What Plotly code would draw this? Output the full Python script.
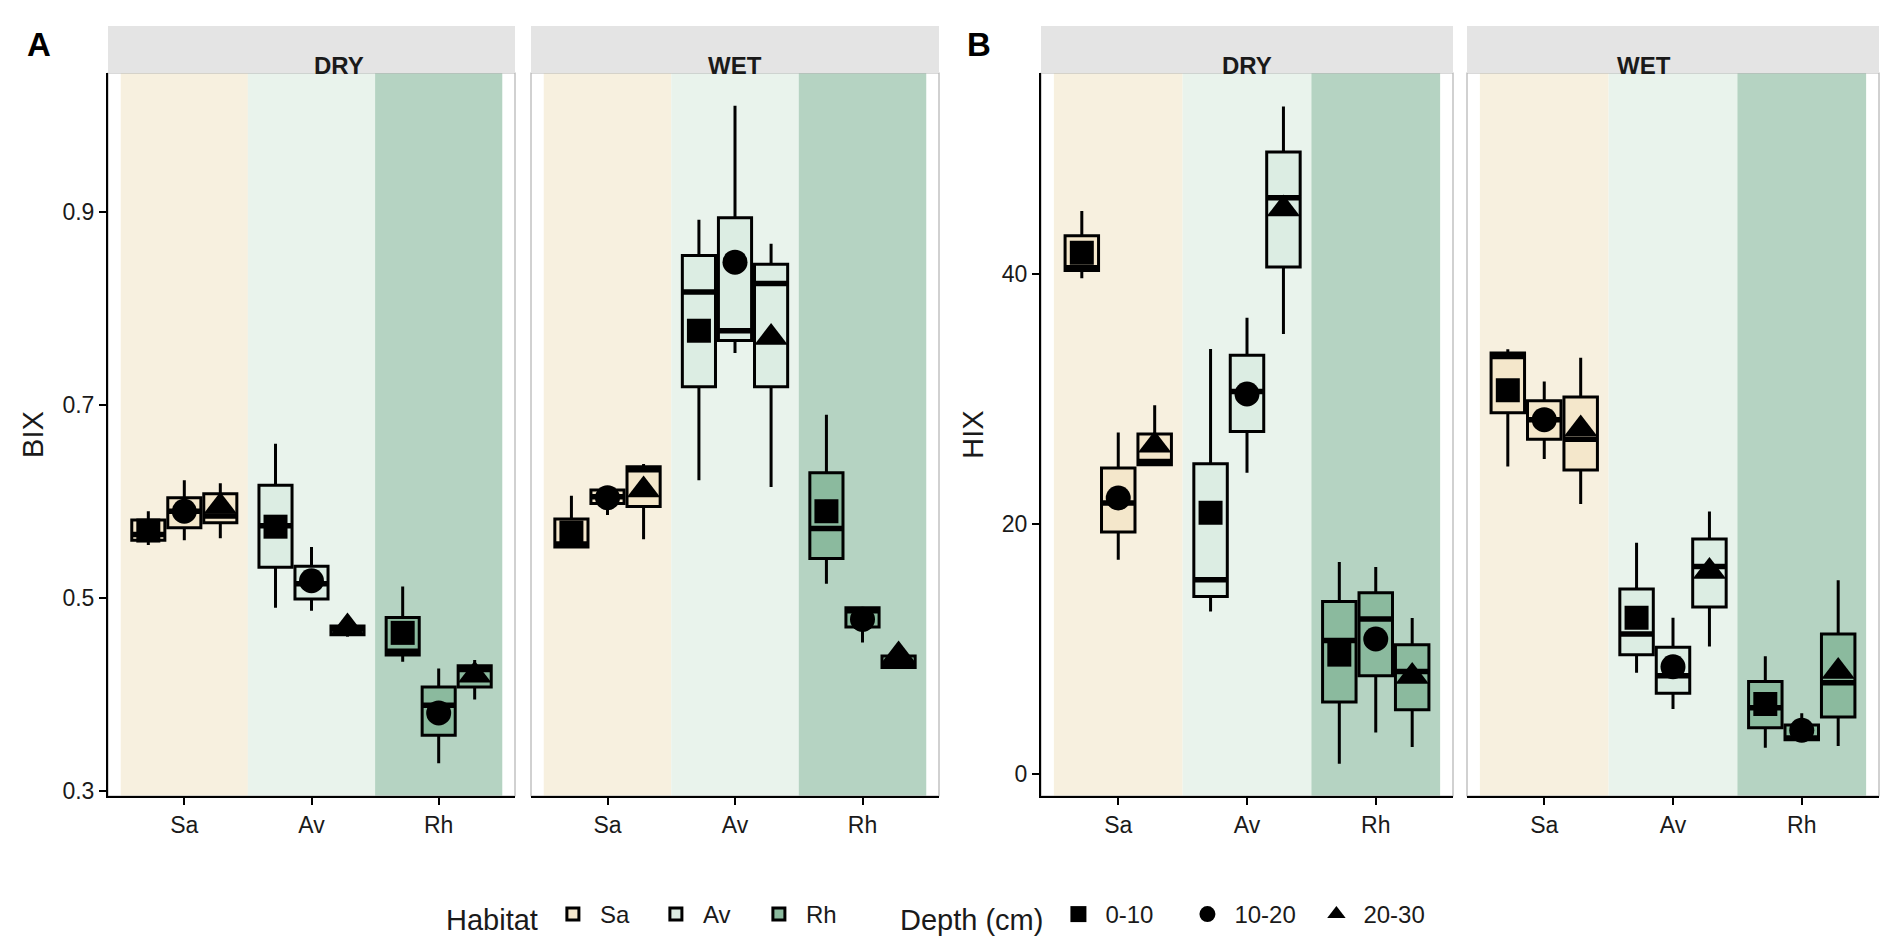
import plotly.graph_objects as go

HABITATS = ["Sa", "Av", "Rh"]
DEPTHS = ["0-10", "10-20", "20-30"]
SEASONS = ["DRY", "WET"]

# box stats, order: Sa 0-10, Sa 10-20, Sa 20-30, Av ..., Rh ...
BIX_DRY_LOW = [0.555, 0.560, 0.562, 0.490, 0.487, 0.460, 0.434, 0.329, 0.395]
BIX_DRY_Q1 = [0.560, 0.573, 0.578, 0.532, 0.499, 0.462, 0.441, 0.358, 0.408]
BIX_DRY_MED = [0.566, 0.590, 0.585, 0.575, 0.515, 0.468, 0.445, 0.389, 0.426]
BIX_DRY_Q3 = [0.581, 0.604, 0.608, 0.617, 0.533, 0.471, 0.480, 0.408, 0.430]
BIX_DRY_HIGH = [0.590, 0.622, 0.619, 0.660, 0.553, 0.473, 0.512, 0.427, 0.436]
BIX_DRY_MEAN = [0.570, 0.590, 0.595, 0.574, 0.518, 0.470, 0.464, 0.381, 0.420]

BIX_WET_LOW = [0.552, 0.586, 0.561, 0.622, 0.754, 0.615, 0.515, 0.454, 0.428]
BIX_WET_Q1 = [0.553, 0.598, 0.595, 0.719, 0.767, 0.719, 0.541, 0.470, 0.428]
BIX_WET_MED = [0.556, 0.605, 0.633, 0.817, 0.777, 0.826, 0.572, 0.487, 0.432]
BIX_WET_Q3 = [0.582, 0.612, 0.636, 0.855, 0.894, 0.846, 0.630, 0.490, 0.440]
BIX_WET_HIGH = [0.606, 0.613, 0.639, 0.892, 1.010, 0.867, 0.690, 0.491, 0.441]
BIX_WET_MEAN = [0.568, 0.604, 0.612, 0.777, 0.848, 0.770, 0.590, 0.478, 0.441]

HIX_DRY_LOW = [39.67, 17.15, 24.70, 13.00, 24.10, 35.20, 0.83, 3.33, 2.16]
HIX_DRY_Q1 = [40.29, 19.36, 24.75, 14.21, 27.40, 40.57, 5.76, 7.86, 5.15]
HIX_DRY_MED = [40.50, 21.68, 25.00, 15.55, 30.60, 46.10, 10.69, 12.40, 8.20]
HIX_DRY_Q3 = [43.06, 24.48, 27.20, 24.83, 33.50, 49.76, 13.81, 14.50, 10.35]
HIX_DRY_HIGH = [45.04, 27.33, 29.50, 34.00, 36.50, 53.40, 16.96, 16.56, 12.48]
HIX_DRY_MEAN = [41.70, 22.08, 26.30, 20.90, 30.40, 45.20, 9.55, 10.80, 7.80]

HIX_WET_LOW = [24.60, 25.20, 21.60, 8.10, 5.20, 10.20, 2.10, 2.74, 2.24]
HIX_WET_Q1 = [28.90, 26.78, 24.33, 9.55, 6.47, 13.36, 3.70, 2.74, 4.56]
HIX_WET_MED = [33.40, 28.35, 26.78, 11.20, 7.86, 16.60, 5.30, 2.88, 7.30]
HIX_WET_Q3 = [33.68, 29.87, 30.17, 14.80, 10.15, 18.80, 7.40, 3.92, 11.20]
HIX_WET_HIGH = [33.98, 31.40, 33.30, 18.50, 12.50, 21.00, 9.43, 4.86, 15.50]
HIX_WET_MEAN = [30.70, 28.35, 27.60, 12.50, 8.58, 16.20, 5.60, 3.50, 8.20]

BIX_TICKS = [0.3, 0.5, 0.7, 0.9]
HIX_TICKS = [0, 20, 40]

BOX_FILL = {"Sa": "#f4e7cb", "Av": "#dcede3", "Rh": "#8bba9e"}
BAND_FILL = {"Sa": "#f7f0df", "Av": "#e9f3ec", "Rh": "#b5d3c2"}
SYMBOLS = ["square", "circle", "triangle-up"]
SIZES = [24, 25, 29]
DODGE = [-0.283, 0.0, 0.283]
BOX_W = 0.26

W, H = 1892, 946
FONT = "Liberation Sans, Arial, sans-serif"
TXT = "#1a1a1a"

panels = [
    ("DRY", BIX_DRY_LOW, BIX_DRY_Q1, BIX_DRY_MED, BIX_DRY_Q3, BIX_DRY_HIGH, BIX_DRY_MEAN),
    ("WET", BIX_WET_LOW, BIX_WET_Q1, BIX_WET_MED, BIX_WET_Q3, BIX_WET_HIGH, BIX_WET_MEAN),
    ("DRY", HIX_DRY_LOW, HIX_DRY_Q1, HIX_DRY_MED, HIX_DRY_Q3, HIX_DRY_HIGH, HIX_DRY_MEAN),
    ("WET", HIX_WET_LOW, HIX_WET_Q1, HIX_WET_MED, HIX_WET_Q3, HIX_WET_HIGH, HIX_WET_MEAN),
]
# panel pixel boxes (left, right), shared top/bottom
px_x = [(100, 507), (523, 931), (1033, 1445), (1459, 1871)]
top_px, bot_px, strip_px = 65, 788, 18
y_dom = [1 - bot_px / H, 1 - top_px / H]

fig = go.Figure()
shapes = []
annotations = []

for i, (season, low, q1, med, q3, high, mean) in enumerate(panels):
    xa = "x" if i == 0 else f"x{i + 1}"
    ya = "y" if i == 0 else f"y{i + 1}"

    for h, hab in enumerate(HABITATS):
        shapes.append(dict(type="rect", xref=xa, yref=f"{ya} domain", x0=h + 0.5, x1=h + 1.5,
                           y0=0, y1=1, fillcolor=BAND_FILL[hab], line_width=0, layer="below"))
        for d in range(3):
            k = h * 3 + d
            pos = h + 1 + DODGE[d]
            fig.add_trace(go.Box(
                x=[pos], q1=[q1[k]], median=[med[k]], q3=[q3[k]],
                lowerfence=[low[k]], upperfence=[high[k]],
                width=BOX_W, fillcolor=BOX_FILL[hab], whiskerwidth=0,
                line=dict(color="black", width=3), boxpoints=False,
                name=hab, legendgroup=hab, legend="legend",
                showlegend=(i == 0 and d == 0), hoverinfo="skip",
                xaxis=xa, yaxis=ya))
            # thicker median bar like ggplot
            fig.add_trace(go.Scatter(
                x=[pos - BOX_W / 2, pos + BOX_W / 2], y=[med[k], med[k]], mode="lines",
                line=dict(color="black", width=5.5), showlegend=False, hoverinfo="skip",
                xaxis=xa, yaxis=ya))

    for d, dep in enumerate(DEPTHS):
        fig.add_trace(go.Scatter(
            x=[h + 1 + DODGE[d] for h in range(3)],
            y=[mean[h * 3 + d] for h in range(3)],
            mode="markers", name=dep, legend="legend2", legendgroup=dep,
            marker=dict(symbol=SYMBOLS[d], size=SIZES[d], color="black", line_width=0),
            showlegend=(i == 0), hoverinfo="skip", xaxis=xa, yaxis=ya))

    # panel border
    shapes.append(dict(type="rect", xref=f"{xa} domain", yref=f"{ya} domain", x0=0, x1=1, y0=0, y1=1,
                       line=dict(color="#b3b3b3", width=1.2), fillcolor="rgba(0,0,0,0)", layer="below"))
    # strip
    l, r = px_x[i]
    shapes.append(dict(type="rect", xref="paper", yref="paper", x0=l / W, x1=r / W,
                       y0=1 - top_px / H, y1=1 - strip_px / H, fillcolor="#e4e4e4", line_width=0))
    annotations.append(dict(xref="paper", yref="paper", x=(l + r) / 2 / W, y=1 - (top_px + strip_px) / 2 / H,
                            text=f"<b>{season}</b>", showarrow=False, font=dict(size=24, color=TXT)))

    xax = dict(domain=[l / W, r / W], anchor=ya, range=[0.4, 3.6], tickvals=[1, 2, 3], ticktext=HABITATS,
               showline=True, linecolor="black", linewidth=2, ticks="outside", ticklen=7, tickwidth=2,
               tickcolor="black", showgrid=False, zeroline=False, tickfont=dict(size=23, color=TXT),
               automargin=False, fixedrange=True)
    if i < 2:
        yax = dict(range=[0.295, 1.044], tickvals=BIX_TICKS, tickformat=".1f")
    else:
        yax = dict(range=[-1.76, 56.08], tickvals=HIX_TICKS)
    yax.update(domain=y_dom, anchor=xa, showgrid=False, zeroline=False, automargin=False, fixedrange=True)
    if season == "DRY":
        yax.update(showline=True, linecolor="black", linewidth=2, ticks="outside", ticklen=7, tickwidth=2,
                   tickcolor="black", tickfont=dict(size=23, color=TXT),
                   title=dict(text="BIX" if i == 0 else "HIX", font=dict(size=29, color=TXT), standoff=10))
    else:
        yax.update(showline=False, showticklabels=False, ticks="")
    key = "" if i == 0 else str(i + 1)
    fig.update_layout(**{f"xaxis{key}": xax, f"yaxis{key}": yax})

annotations.append(dict(xref="paper", yref="paper", x=17 / W, y=1 - 16 / H, xanchor="left", yanchor="top",
                        text="<b>A</b>", showarrow=False, font=dict(size=33, color="black")))
annotations.append(dict(xref="paper", yref="paper", x=957 / W, y=1 - 16 / H, xanchor="left", yanchor="top",
                        text="<b>B</b>", showarrow=False, font=dict(size=33, color="black")))

fig.update_layout(
    width=W, height=H, margin=dict(l=0, r=0, t=0, b=0),
    paper_bgcolor="white", plot_bgcolor="white",
    font=dict(family=FONT, color=TXT),
    shapes=shapes, annotations=annotations, boxmode="overlay",
    legend=dict(orientation="h", x=436 / W, xanchor="left", y=1 - 908 / H, yanchor="middle",
                title=dict(text="Habitat", side="left", font=dict(size=29)), font=dict(size=24),
                itemwidth=44, entrywidth=44, entrywidthmode="pixels", bgcolor="rgba(0,0,0,0)"),
    legend2=dict(orientation="h", x=890 / W, xanchor="left", y=1 - 908 / H, yanchor="middle",
                 title=dict(text="Depth (cm)", side="left", font=dict(size=29)), font=dict(size=24),
                 itemwidth=44, entrywidth=70, entrywidthmode="pixels", bgcolor="rgba(0,0,0,0)"),
)

fig.write_html("out.html")
